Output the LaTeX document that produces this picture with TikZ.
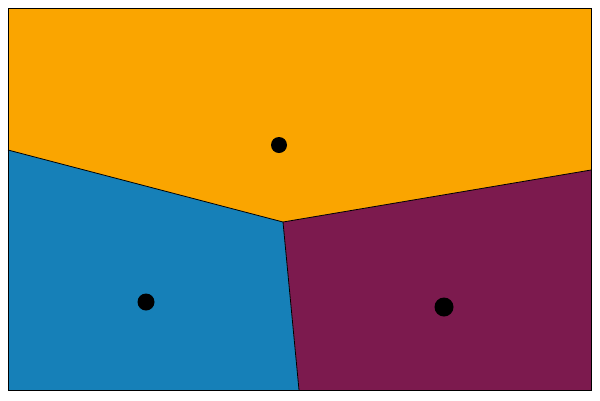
\documentclass[tikz,border=0pt]{standalone}
\definecolor{corange}{RGB}{250,165,0}
\definecolor{cblue}{RGB}{22,128,184}
\definecolor{cpurple}{RGB}{124,26,78}
\tikzset{edge/.style={black,line width=0.8pt},dot/.style={circle,fill=black,inner sep=0pt,minimum size=16pt}}
\begin{document}
\begin{tikzpicture}[x=1pt,y=-1pt]
\useasboundingbox (0,0) rectangle (600,400);
\coordinate (tl) at (8,8);
\coordinate (tr) at (591,8);
\coordinate (br) at (591,390);
\coordinate (bl) at (8,390);
\coordinate (j) at (283,222);
\coordinate (l) at (8,150);
\coordinate (r) at (591,170);
\coordinate (b) at (299,390);
\fill[corange] (tl) -- (tr) -- (r) -- (j) -- (l) -- cycle;
\fill[cblue] (l) -- (j) -- (b) -- (bl) -- cycle;
\fill[cpurple] (j) -- (r) -- (br) -- (b) -- cycle;
\draw[edge] (l) -- (j) -- (r);
\draw[edge] (j) -- (b);
\draw[edge] (tl) rectangle (br);
\node[dot] (d1) at (279,145) {};
\node[dot,minimum size=17pt] (d2) at (146,302) {};
\node[dot,minimum size=19pt] (d3) at (444,307) {};
\end{tikzpicture}
\end{document}
